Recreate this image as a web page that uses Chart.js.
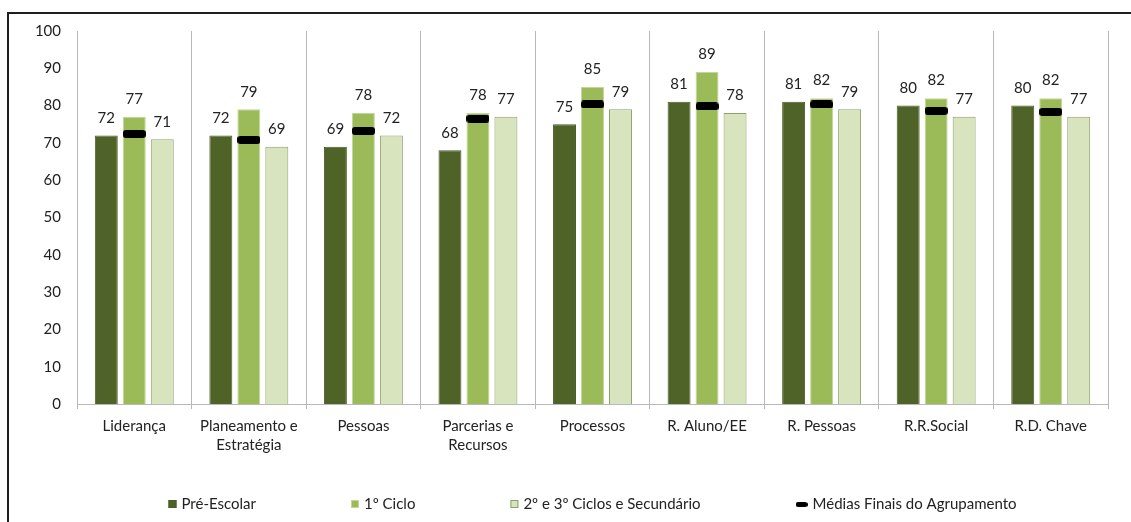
<!DOCTYPE html>
<html>
<head>
<meta charset="utf-8">
<title>Resultados por critério</title>
<script src="https://cdn.jsdelivr.net/npm/chart.js@4/dist/chart.umd.min.js"></script>
<style>
  html, body { margin: 0; padding: 0; background: #ffffff; overflow: hidden; }
  #frame {
    position: absolute; left: 7px; top: 12px;
    width: 1200px; height: 600px;
    border-left: 2px solid #1e1e1e; border-top: 2px solid #1e1e1e;
    box-sizing: border-box;
  }
  #chart { position: absolute; left: 0; top: 0; }
</style>
</head>
<body>
<div id="frame"></div>
<canvas id="chart" width="1131" height="522"></canvas>
<script>
// Critérios (eixo X) – rótulos em várias linhas
const categories = [
  ['Liderança'],
  ['Planeamento e', 'Estratégia'],
  ['Pessoas'],
  ['Parcerias e', 'Recursos'],
  ['Processos'],
  ['R. Aluno/EE'],
  ['R. Pessoas'],
  ['R.R.Social'],
  ['R.D. Chave']
];

// Séries por nível de ensino
const preEscolar      = [72, 72, 69, 68, 75, 81, 81, 80, 80];
const primeiroCiclo   = [77, 79, 78, 78, 85, 89, 82, 82, 82];
const segundoTerceiro = [71, 69, 72, 77, 79, 78, 79, 77, 77];

// Médias finais do agrupamento (marcadores)
const mediasFinais    = [72.4, 70.8, 73.2, 76.5, 80.3, 79.8, 80.3, 78.6, 78.3];

const seriesNames = ['Pré-Escolar', '1º Ciclo', '2º e 3º Ciclos e Secundário', 'Médias Finais do Agrupamento'];

// Eixo Y
const yMin = 0, yMax = 100, yStep = 10;

const FONT = 'Lato, "Open Sans", "Liberation Sans", sans-serif';
const TEXT = '#222222';
const GRID = '#b8b8b8';

function roundedBar(w, h, r) {
  const c = document.createElement('canvas');
  c.width = w; c.height = h;
  const g = c.getContext('2d');
  g.fillStyle = '#000000';
  g.beginPath();
  g.moveTo(r, 0);
  g.lineTo(w - r, 0);
  g.arcTo(w, 0, w, r, r);
  g.lineTo(w, h - r);
  g.arcTo(w, h, w - r, h, r);
  g.lineTo(r, h);
  g.arcTo(0, h, 0, h - r, r);
  g.lineTo(0, r);
  g.arcTo(0, 0, r, 0, r);
  g.closePath();
  g.fill();
  return c;
}
const markerImg = roundedBar(23, 8, 3);
const legendMarkerImg = roundedBar(12, 5, 2.5);

// Valores por cima das barras
const valueLabels = {
  id: 'valueLabels',
  afterDatasetsDraw(chart) {
    const ctx = chart.ctx;
    ctx.save();
    ctx.font = '15px ' + FONT;
    ctx.fillStyle = TEXT;
    ctx.textAlign = 'center';
    ctx.textBaseline = 'middle';
    chart.data.datasets.forEach((ds, i) => {
      if (ds.type === 'line') return;
      const meta = chart.getDatasetMeta(i);
      meta.data.forEach((el, j) => {
        ctx.fillText(String(ds.data[j]), el.x, el.y - 17.5);
      });
    });
    ctx.restore();
  }
};

// Legenda em linha, centrada na área do gráfico
const spreadLegend = {
  id: 'spreadLegend',
  afterDraw(chart) {
    const ctx = chart.ctx;
    const area = chart.chartArea;
    ctx.save();
    ctx.font = '15px ' + FONT;
    ctx.textBaseline = 'middle';
    ctx.textAlign = 'left';
    const gapItems = 95, gapText = 5;
    const items = chart.data.datasets.map(ds => {
      const isLine = ds.type === 'line';
      const mw = isLine ? legendMarkerImg.width : 8;
      return { ds, isLine, mw, tw: ctx.measureText(ds.label).width };
    });
    const total = items.reduce((s, it) => s + it.mw + gapText + it.tw, 0) + gapItems * (items.length - 1);
    let x = (area.left + area.right) / 2 - total / 2;
    const y = 504;
    items.forEach(it => {
      if (it.isLine) {
        ctx.drawImage(legendMarkerImg, x, Math.round(y - legendMarkerImg.height / 2));
      } else {
        ctx.fillStyle = it.ds.backgroundColor;
        ctx.fillRect(x, y - 4, 8, 8);
        ctx.strokeStyle = it.ds.borderColor;
        ctx.lineWidth = 1;
        ctx.strokeRect(x + 0.5, y - 3.5, 7, 7);
      }
      x += it.mw + gapText;
      ctx.fillStyle = TEXT;
      ctx.fillText(it.ds.label, x, y);
      x += it.tw + gapItems;
    });
    ctx.restore();
  }
};

new Chart(document.getElementById('chart'), {
  type: 'bar',
  data: {
    labels: categories,
    datasets: [
      {
        label: seriesNames[0], data: preEscolar,
        backgroundColor: '#4f6228', borderColor: '#4a5d25', borderWidth: 1,
        categoryPercentage: 0.733, barPercentage: 0.82, order: 1
      },
      {
        label: seriesNames[1], data: primeiroCiclo,
        backgroundColor: '#9bbb59', borderColor: '#c2d69c', borderWidth: 1,
        categoryPercentage: 0.733, barPercentage: 0.82, order: 1
      },
      {
        label: seriesNames[2], data: segundoTerceiro,
        backgroundColor: '#d7e4bd', borderColor: '#8e9f6a', borderWidth: 1,
        categoryPercentage: 0.733, barPercentage: 0.82, order: 1
      },
      {
        type: 'line', label: seriesNames[3], data: mediasFinais,
        showLine: false, pointStyle: markerImg, pointRadius: 12,
        borderColor: '#000000', backgroundColor: '#000000', order: 0
      }
    ]
  },
  options: {
    responsive: false,
    animation: false,
    layout: { padding: { left: 17, right: 23, top: 31, bottom: 0 } },
    plugins: {
      legend: { display: false },
      tooltip: { enabled: false }
    },
    scales: {
      x: {
        offset: true,
        grid: { display: true, offset: true, color: GRID, lineWidth: 1, tickLength: 5, drawOnChartArea: true },
        border: { display: true, color: GRID, width: 1 },
        ticks: {
          color: TEXT, font: { family: FONT, size: 15, lineHeight: 1.25 },
          padding: 8, maxRotation: 0, autoSkip: false
        },
        afterFit(scale) { scale.height = 118; }
      },
      y: {
        min: yMin, max: yMax,
        grid: { display: false, drawTicks: false },
        border: { display: false },
        ticks: { stepSize: yStep, color: TEXT, font: { family: FONT, size: 15 }, padding: 16 },
        afterFit(scale) { scale.width = 60; }
      }
    }
  },
  plugins: [valueLabels, spreadLegend]
});
</script>
</body>
</html>
